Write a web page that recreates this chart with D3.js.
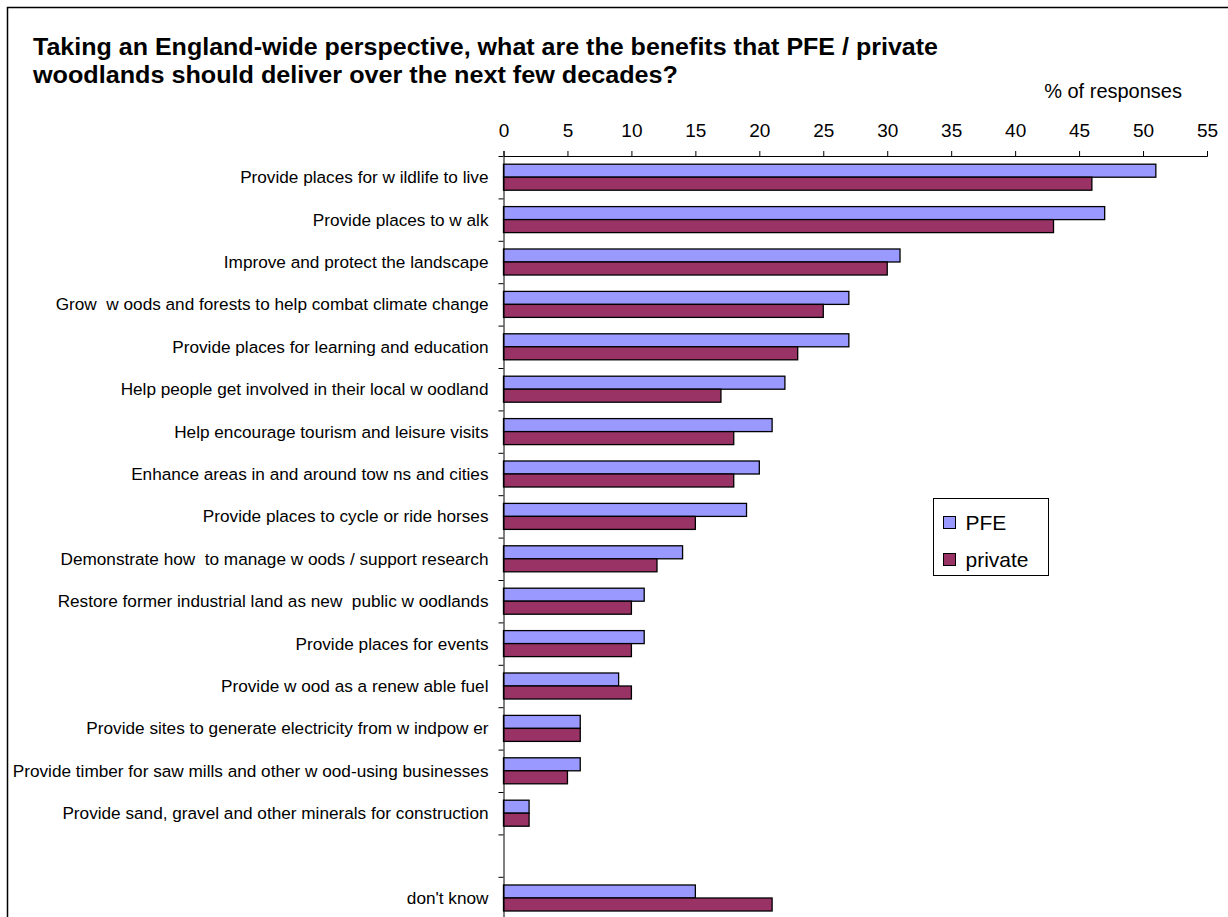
<!DOCTYPE html>
<html lang="en">
<head>
<meta charset="UTF-8">
<title>PFE / private woodland benefits</title>
<script src="https://d3js.org/d3.v7.min.js"></script>
<style>
    body { margin: 0; padding: 0; background: #fff; }
    svg { display: block; font-family: 'Liberation Sans', Arial, sans-serif; }
    .axis path, .axis line { stroke: #000; }
</style>
</head>
<body>
<svg id="chart" width="1228" height="917"></svg>
<script>
// categories, top to bottom ("" is the empty row before "don't know")
const categories = [
    "Provide places for w ildlife to live",
    "Provide places to w alk",
    "Improve and protect the landscape",
    "Grow  w oods and forests to help combat climate change",
    "Provide places for learning and education",
    "Help people get involved in their local w oodland",
    "Help encourage tourism and leisure visits",
    "Enhance areas in and around tow ns and cities",
    "Provide places to cycle or ride horses",
    "Demonstrate how  to manage w oods / support research",
    "Restore former industrial land as new  public w oodlands",
    "Provide places for events",
    "Provide w ood as a renew able fuel",
    "Provide sites to generate electricity from w indpow er",
    "Provide timber for saw mills and other w ood-using businesses",
    "Provide sand, gravel and other minerals for construction",
    "",
    "don't know"
];
const pfeValues     = [51, 47, 31, 27, 27, 22, 21, 20, 19, 14, 11, 11, 9, 6, 6, 2, null, 15];
const privateValues = [46, 43, 30, 25, 23, 17, 18, 18, 15, 12, 10, 10, 10, 6, 5, 2, null, 21];
const seriesNames = ["PFE", "private"];
const seriesColors = ["#9999FF", "#993366"];
const xTicks = [0, 5, 10, 15, 20, 25, 30, 35, 40, 45, 50, 55];
const titleLines = [
    "Taking an England-wide perspective, what are the benefits that PFE / private",
    "woodlands should deliver over the next few decades?"
];

const svg = d3.select("#chart");

// outer chart border (chart is cut off at right and bottom)
svg.append("rect")
    .attr("x", 7.5).attr("y", 7.5)
    .attr("width", 1240).attr("height", 940)
    .attr("fill", "#fff").attr("stroke", "#000").attr("stroke-width", 1.5);

// title (old GDI rendering is wider than the font's own metrics)
const titleWidths = [905, 645];
svg.append("g").selectAll("text")
    .data(titleLines)
    .join("text")
    .attr("x", 33)
    .attr("y", (d, i) => 55 + i * 28)
    .attr("font-size", 23).attr("font-weight", "bold")
    .attr("textLength", (d, i) => titleWidths[i])
    .attr("lengthAdjust", "spacingAndGlyphs")
    .text(d => d);

const plotTop = 156, plotLeft = 503.5, plotRight = 1207, rowH = 42.4;

const x = d3.scaleLinear().domain([0, 55]).range([plotLeft, plotRight]);
const y0 = d3.scaleBand().domain(d3.range(categories.length))
    .range([plotTop, plotTop + rowH * categories.length]).padding(0);
const y1 = d3.scaleBand().domain(seriesNames)
    .range([0, y0.bandwidth()]).paddingInner(0).paddingOuter(0.63);

// bars
const rows = categories.map((c, i) => ({ i, c, vals: [pfeValues[i], privateValues[i]] }));
const g = svg.append("g");
rows.forEach(r => {
    r.vals.forEach((v, k) => {
        if (v == null) return;
        g.append("rect")
            .attr("x", x(0))
            .attr("y", y0(r.i) + y1(seriesNames[k]))
            .attr("width", x(v) - x(0))
            .attr("height", y1.bandwidth())
            .attr("fill", seriesColors[k])
            .attr("stroke", "#000").attr("stroke-width", 1.3);
    });
});

// x axis on top
svg.append("g").attr("class", "axis")
    .attr("transform", `translate(0,${plotTop})`)
    .call(d3.axisTop(x).tickValues(xTicks).tickSize(5).tickSizeOuter(5).tickPadding(14))
    .call(a => a.selectAll("text").attr("font-size", 19).attr("fill", "#000")
        .attr("font-family", "'Liberation Sans', Arial, sans-serif"));

svg.append("text")
    .attr("x", 1182).attr("y", 98)
    .attr("text-anchor", "end").attr("font-size", 20)
    .text("% of responses");

// y axis: ticks at row boundaries
const rowScale = d3.scaleLinear().domain([0, categories.length]).range([plotTop, plotTop + rowH * categories.length]);
svg.append("g").attr("class", "axis")
    .attr("transform", `translate(${plotLeft},0)`)
    .call(d3.axisLeft(rowScale).tickValues(d3.range(categories.length + 1)).tickFormat("").tickSize(5).tickSizeOuter(0));

// category labels
svg.append("g").selectAll("text")
    .data(rows)
    .join("text")
    .attr("x", 488.5)
    .attr("y", d => y0(d.i) + y0.bandwidth() / 2)
    .attr("dy", "0.35em")
    .attr("text-anchor", "end")
    .attr("font-size", 17.2)
    .style("white-space", "pre")
    .text(d => d.c);

// legend
const legend = svg.append("g").attr("transform", "translate(933.5,498.5)");
legend.append("rect").attr("width", 115).attr("height", 77)
    .attr("fill", "#fff").attr("stroke", "#000").attr("stroke-width", 1);
seriesNames.forEach((s, k) => {
    legend.append("rect")
        .attr("x", 10).attr("y", 18 + k * 37)
        .attr("width", 12).attr("height", 12)
        .attr("fill", seriesColors[k]).attr("stroke", "#000");
    legend.append("text")
        .attr("x", 32).attr("y", 31 + k * 37)
        .attr("font-size", 21)
        .text(s);
});
</script>
</body>
</html>
